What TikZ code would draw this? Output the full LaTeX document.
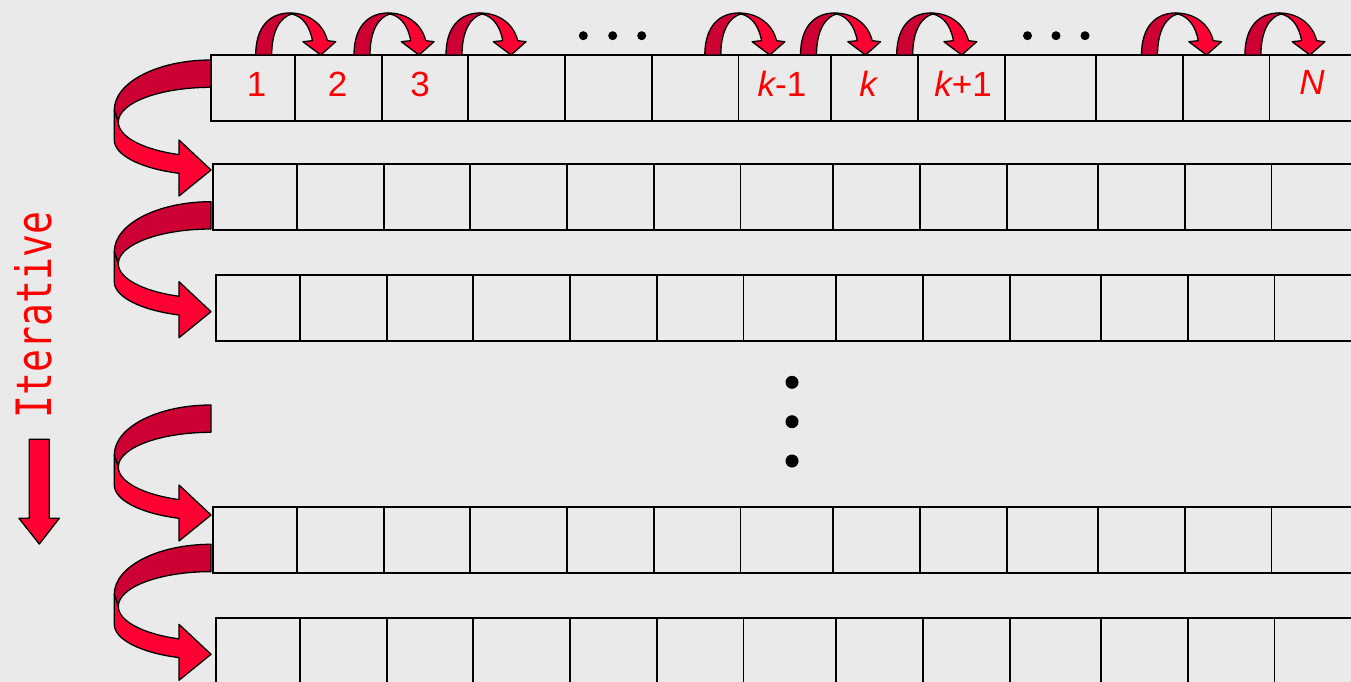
\documentclass[tikz,border=0pt]{standalone}
\usepackage{fontspec}
\setmainfont{Liberation Sans}
\newfontfamily\monofont{DejaVu Sans Mono}
\definecolor{bg}{HTML}{EAEAEA}
\definecolor{brightred}{HTML}{FF0033}
\definecolor{darkred}{HTML}{CC0033}
\definecolor{labred}{HTML}{FF0000}
\begin{document}
\begin{tikzpicture}[x=1pt,y=-1pt,
  rowline/.style={line width=1.9pt, draw=black},
  outl/.style={draw=black, line width=1.3pt, line join=round},
  lab/.style={text=labred, font=\fontsize{35}{40}\selectfont, inner sep=0pt, anchor=base},
  dot/.style={fill=black},
  pics/curvL/.style={code={
    \filldraw[outl, fill=darkred] (0,0) arc[start angle=270,end angle=180,x radius=96.7,y radius=50]
      -- (-92.7,62) arc[start angle=180,end angle=270,x radius=92.7,y radius=34.7] -- cycle;
    \filldraw[outl, fill=brightred] (-96.7,50) -- (-96.7,80)
      arc[start angle=180,end angle=109.3,x radius=96.7,y radius=35.3]
      -- (-32,136) -- (0,110) -- (-32,80) -- (-32,94.6)
      arc[start angle=110.2,end angle=180,x radius=92.7,y radius=34.7] -- cycle;
  }},
  pics/curvD/.style={code={
    \filldraw[outl, fill=darkred] (0,0) .. controls (0,-28) and (14,-42) .. (34,-42)
      -- (36,-41) .. controls (25,-38) and (16,-25) .. (16,0) -- cycle;
    \filldraw[outl, fill=brightred] (34,-42) .. controls (54,-42) and (68,-30) .. (71.7,-14.3)
      -- (80,-13.3) -- (65,0) -- (47.3,-13.3) -- (56.7,-14.3)
      .. controls (54,-30) and (46,-39) .. (36,-41) -- cycle;
  }}
]
\useasboundingbox (0,0) rectangle (1351,682);
\fill[bg] (0,0) rectangle (1351,682);
\begin{scope}
\clip (0,0) rectangle (1351,682);
\foreach \lx/\ty in {211/55, 213/164, 216/275, 213/507, 216/618} {
  \draw[rowline] (\lx,\ty) rectangle (1400,\ty+66);
  \foreach \c in {84,170.7,257,354,441,527.5,620,707,794,885,972,1058.5}
    \draw[rowline] (\lx+\c,\ty) -- (\lx+\c,\ty+66);
}
\end{scope}
% left curved arrows
\pic at (211,60) {curvL};
\pic at (211,201.7) {curvL};
\pic at (211,405) {curvL};
\pic at (211,544.3) {curvL};
% top curved arrows
\foreach \x in {255.7,354,446,704.8,800.5,896.7,1141.5,1244.9}
  \pic at (\x,55) {curvD};
% dots
\foreach \x in {583.3,612.7,641.7,1027.5,1056,1085}
  \fill[dot] (\x,35.7) circle[radius=4.5];
\foreach \y in {382.3,421.7,461}
  \fill[dot] (792,\y) circle[radius=6.5];
% labels
\node[lab] (n1) at (256.7,96.7) {1};
\node[lab] (n2) at (337.5,96.7) {2};
\node[lab] (n3) at (420,96.7) {3};
\node[lab] (nkm) at (782,96.7) {\itshape k\upshape -1};
\node[lab] (nk) at (868,96.7) {\itshape k};
\node[lab] (nkp) at (963,96.7) {\itshape k\upshape +1};
\node[lab] (nN) at (1312,95) {\itshape N};
% iterative
\node[text=labred, rotate=90, inner sep=0pt] (iter) at (33.5,315) {\resizebox{206pt}{37pt}{\monofont Iterative}};
\filldraw[outl, fill=brightred] (29.3,439.3) -- (49.3,439.3) -- (49.3,518.3) -- (59.3,518.3)
  -- (39.3,544) -- (19,518.3) -- (29.3,518.3) -- cycle;
\end{tikzpicture}
\end{document}
